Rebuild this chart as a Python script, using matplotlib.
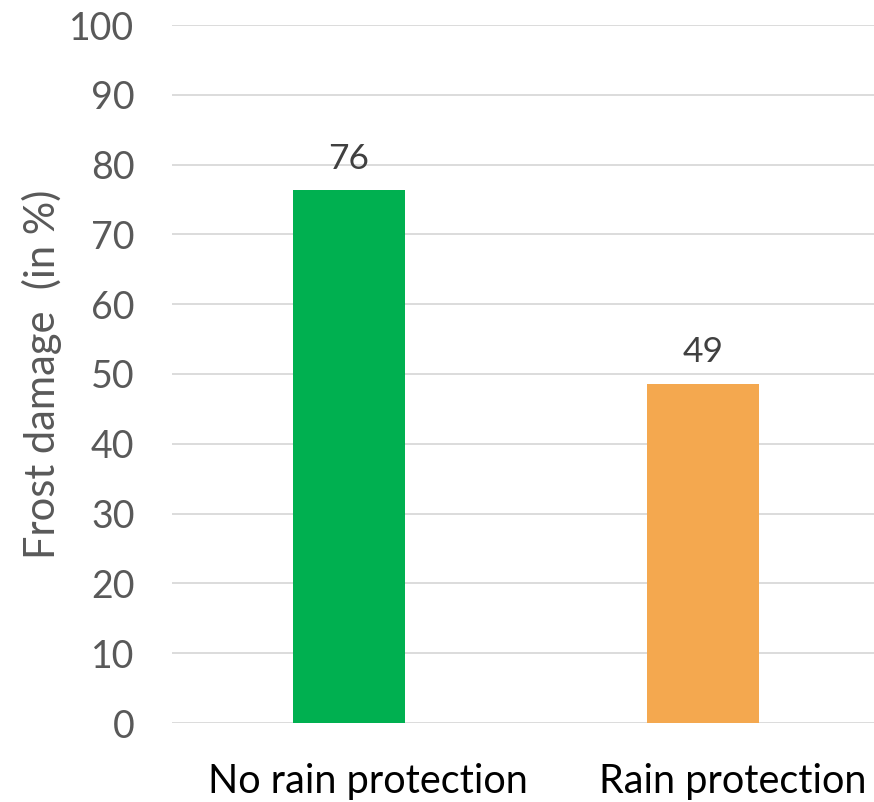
import matplotlib.pyplot as plt
import matplotlib.transforms as mtransforms

categories = ["No rain protection", "Rain protection"]
values = [76.3, 48.6]
labels = ["76", "49"]
colors = ["#00B050", "#F4A84F"]
yticks = [0, 10, 20, 30, 40, 50, 60, 70, 80, 90, 100]

plt.rcParams['font.family'] = ['Lato', 'DejaVu Sans']

fig = plt.figure(figsize=(8.74, 8.02), dpi=100)
# axes: 0 at y=723, 100 at y=25, left edge x=172
ax = fig.add_axes([172/874, 1 - 723/802, 708/874, 698/802])

x = range(len(categories))
bars = ax.bar(x, values, width=0.316, color=colors, zorder=3)
for b, lab in zip(bars, labels):
    ax.annotate(lab, (b.get_x() + b.get_width()/2, b.get_height()),
                xytext=(0, 11), textcoords='offset points',
                ha='center', va='bottom', fontsize=25.5, color='#404040')

ax.set_xlim(-0.5, 1.5)
ax.set_ylim(0, 100)
ax.set_yticks(yticks)
ax.set_xticks(list(x))
ax.set_xticklabels(categories, fontsize=28.5, color='black')
ax.tick_params(axis='y', labelsize=27, labelcolor='#595959', length=0, pad=27)
ax.tick_params(axis='x', length=0, pad=29)
ax.grid(axis='y', color='#D9D9D9', linewidth=1.3, zorder=0)
for s in ax.spines.values():
    s.set_visible(False)
ax.set_ylabel("Frost damage  (in %)", fontsize=30, color='#595959', labelpad=5)

# category labels sit a little right of the bar centres in the original
for t, dx in zip(ax.get_xticklabels(), [19, 30]):
    t.set_transform(t.get_transform() + mtransforms.ScaledTranslation(dx/100, 0, fig.dpi_scale_trans))

plt.savefig("out.png", dpi=100)
